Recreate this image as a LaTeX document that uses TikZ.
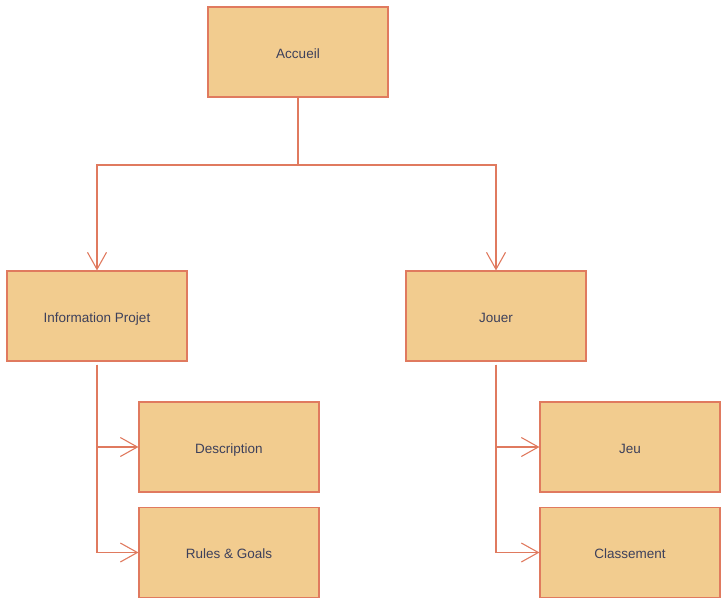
\documentclass[tikz,border=0pt]{standalone}
\usepackage{fontspec}
\setmainfont{Liberation Sans}
\usetikzlibrary{arrows.meta}
\definecolor{boxfill}{HTML}{F2CC8F}
\definecolor{boxline}{HTML}{E07A5F}
\definecolor{txt}{HTML}{3D405B}
\begin{document}
\begin{tikzpicture}[x=1pt,y=-1pt,
  box/.style={draw=boxline,fill=boxfill,line width=1.1pt,minimum width=180pt,minimum height=90pt,inner sep=0pt,text=txt,font=\fontsize{13.5}{16}\selectfont,text height=14pt,text depth=2pt},
  conn/.style={draw=boxline,line width=1.1pt,-{Straight Barb[length=17pt,width=19pt,line width=1.1pt]}}]
\useasboundingbox (0,0) rectangle (728,605);
\node[box] (acc) at (298,52) {Accueil};
\node[box] (info) at (97,316) {Information Projet};
\node[box] (jouer) at (496,316) {Jouer};
\node[box] (desc) at (229,447) {Description};
\node[box] (rules) at (229,552.5) {Rules \& Goals};
\node[box] (jeu) at (630,447) {Jeu};
\node[box] (class) at (630,552.5) {Classement};
\coordinate (j) at (298,165);
\draw[draw=boxline,line width=1.1pt] (acc.south) -- (j);
\draw[conn] (j) -| (info.north);
\draw[conn] (j) -| (jouer.north);
\draw[conn] ([yshift=-3pt]info.south) |- (desc.west);
\draw[conn] ([yshift=-3pt]info.south) |- (rules.west);
\draw[conn] ([yshift=-3pt]jouer.south) |- (jeu.west);
\draw[conn] ([yshift=-3pt]jouer.south) |- (class.west);
\end{tikzpicture}
\end{document}
